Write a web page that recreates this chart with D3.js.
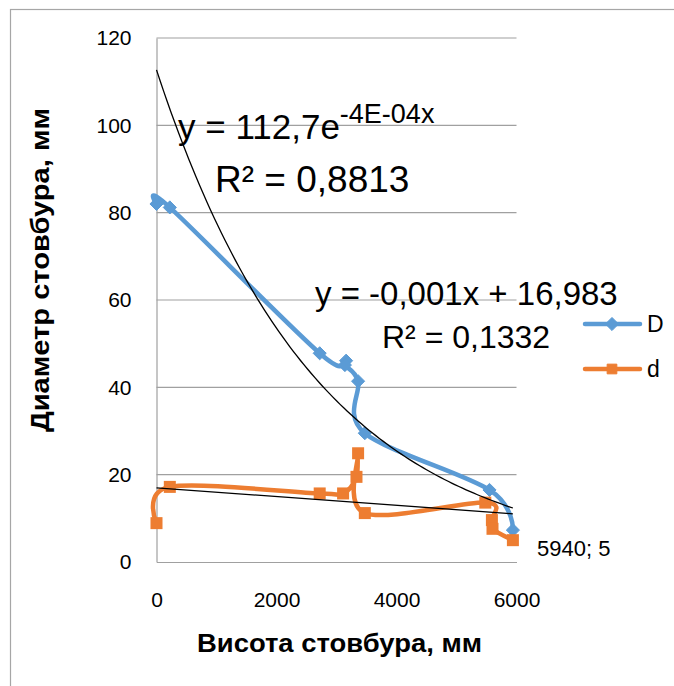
<!DOCTYPE html>
<html>
<head>
<meta charset="utf-8">
<script src="https://cdn.jsdelivr.net/npm/d3@7"></script>
<style>
  body { margin: 0; background: #fff; }
  svg { font-family: "Liberation Sans", Arial, sans-serif; }
</style>
</head>
<body>
<svg id="chart"></svg>
<script>
// Stem diameter along stem height

var heightD = [0, 222, 2720, 3160, 3140, 3360, 3472, 5550, 5940];
var diamD = [82, 81.2, 47.8, 46.1, 45.1, 41.4, 29.5, 16.5, 7.3];

var heightSmall = [0, 222, 2720, 3110, 3333, 3360, 3472, 5480, 5590, 5600, 5940];
var diamSmall = [8.9, 17.2, 15.7, 15.7, 19.5, 24.9, 11.2, 13.6, 9.6, 7.6, 5];

var xTicks = [0, 2000, 4000, 6000];
var yTicks = [0, 20, 40, 60, 80, 100, 120];

var seriesNames = ["D", "d"];
var seriesColors = ["#5B9BD5", "#ED7D31"];

// trendline coefficients as printed on the chart
var expA = 112.7, expK = -0.000372;
var linA = -0.001, linB = 16.983;

var svgWidth = 674, svgHeight = 686;

var svg = d3.select("#chart")
    .attr("width", svgWidth)
    .attr("height", svgHeight);

// chart border
svg.append("rect")
    .attr("x", 10.5).attr("y", 9.5)
    .attr("width", 700).attr("height", 700)
    .attr("fill", "none")
    .attr("stroke", "#a6a6a6")
    .attr("stroke-width", 1.2);

var xScale = d3.scaleLinear().domain([0, 6000]).range([156.5, 516.5]);
var yScale = d3.scaleLinear().domain([0, 120]).range([562, 38]);

// gridlines
svg.append("g")
    .selectAll("line")
    .data(yTicks.slice(1))
    .enter()
    .append("line")
    .attr("x1", xScale(0)).attr("x2", xScale(6000))
    .attr("y1", function(d) { return yScale(d); })
    .attr("y2", function(d) { return yScale(d); })
    .attr("stroke", "#a0a0a0")
    .attr("stroke-width", 1.2);

// axes
var xAxis = svg.append("g")
    .attr("transform", "translate(0," + yScale(0) + ")")
    .call(d3.axisBottom(xScale).tickValues(xTicks).tickFormat(d3.format("d")).tickSize(0).tickPadding(30));
var yAxis = svg.append("g")
    .attr("transform", "translate(" + xScale(0) + ",0)")
    .call(d3.axisLeft(yScale).tickValues(yTicks).tickSize(0).tickPadding(25));

[xAxis, yAxis].forEach(function(ax) {
    ax.select(".domain").attr("stroke", "#a0a0a0").attr("stroke-width", 1.2);
    ax.selectAll("text")
        .attr("font-family", "Liberation Sans, Arial, sans-serif")
        .attr("font-size", 21)
        .attr("fill", "#000");
});

// axis titles
svg.append("text")
    .attr("x", 197).attr("y", 652)
    .attr("font-size", 26)
    .attr("font-weight", "bold")
    .attr("textLength", 285)
    .attr("lengthAdjust", "spacingAndGlyphs")
    .text("Висота стовбура, мм");

svg.append("text")
    .attr("transform", "translate(49,432) rotate(-90)")
    .attr("font-size", 26)
    .attr("font-weight", "bold")
    .attr("textLength", 324)
    .attr("lengthAdjust", "spacingAndGlyphs")
    .text("Диаметр стовбура, мм");

// series lines (smoothed like the office chart)
var smooth = d3.line()
    .x(function(d) { return xScale(d[0]); })
    .y(function(d) { return yScale(d[1]); })
    .curve(d3.curveCardinal.tension(0));

var ptsD = heightD.map(function(h, i) { return [h, diamD[i]]; });
var ptsSmall = heightSmall.map(function(h, i) { return [h, diamSmall[i]]; });

svg.append("path")
    .datum(ptsD)
    .attr("d", smooth)
    .attr("fill", "none")
    .attr("stroke", seriesColors[0])
    .attr("stroke-width", 4.5)
    .attr("stroke-linejoin", "round");

svg.append("path")
    .datum(ptsSmall)
    .attr("d", smooth)
    .attr("fill", "none")
    .attr("stroke", seriesColors[1])
    .attr("stroke-width", 4.5)
    .attr("stroke-linejoin", "round");

// markers
svg.append("g")
    .selectAll("path")
    .data(ptsD)
    .enter()
    .append("path")
    .attr("d", d3.symbol().type(d3.symbolDiamond2).size(110))
    .attr("transform", function(d) { return "translate(" + xScale(d[0]) + "," + yScale(d[1]) + ")"; })
    .attr("fill", seriesColors[0])
    .attr("stroke", seriesColors[0]);

svg.append("g")
    .selectAll("rect")
    .data(ptsSmall)
    .enter()
    .append("rect")
    .attr("x", function(d) { return xScale(d[0]) - 6; })
    .attr("y", function(d) { return yScale(d[1]) - 6; })
    .attr("width", 12).attr("height", 12)
    .attr("fill", seriesColors[1]);

// trendlines
var expPts = d3.range(0, 5941, 60).map(function(h) { return [h, expA * Math.exp(expK * h)]; });
var trend = d3.line()
    .x(function(d) { return xScale(d[0]); })
    .y(function(d) { return yScale(d[1]); });

svg.append("path")
    .datum(expPts)
    .attr("d", trend)
    .attr("fill", "none")
    .attr("stroke", "#000")
    .attr("stroke-width", 1.3);

svg.append("path")
    .datum([[0, linB], [5940, linB + linA * 5940]])
    .attr("d", trend)
    .attr("fill", "none")
    .attr("stroke", "#000")
    .attr("stroke-width", 1.3);

// trendline labels
var eq1 = svg.append("text").attr("x", 178).attr("y", 139).attr("font-size", 35);
eq1.append("tspan").text("y = 112,7e");
eq1.append("tspan").attr("dy", -16).attr("font-size", 27).text("-4E-04x");

svg.append("text").attr("x", 215).attr("y", 192).attr("font-size", 37).text("R² = 0,8813");

svg.append("text").attr("x", 315).attr("y", 305).attr("font-size", 33).text("y = -0,001x + 16,983");
svg.append("text").attr("x", 382).attr("y", 348).attr("font-size", 32).text("R² = 0,1332");

// data label on last point of d
svg.append("text")
    .attr("x", 537).attr("y", 556)
    .attr("font-size", 22)
    .text(heightSmall[heightSmall.length - 1] + "; " + diamSmall[diamSmall.length - 1]);

// legend
var legend = svg.append("g")
    .selectAll("g")
    .data(seriesNames)
    .enter()
    .append("g")
    .attr("transform", function(d, i) { return "translate(585," + (324 + i * 45) + ")"; });

legend.append("line")
    .attr("x1", 0).attr("x2", 55)
    .attr("stroke", function(d, i) { return seriesColors[i]; })
    .attr("stroke-width", 4.5)
    .attr("stroke-linecap", "round");

legend.append("path")
    .attr("d", function(d, i) {
        return d3.symbol().type(i === 0 ? d3.symbolDiamond2 : d3.symbolSquare2).size(i === 0 ? 110 : 120)();
    })
    .attr("transform", "translate(27,0)")
    .attr("fill", function(d, i) { return seriesColors[i]; })
    .attr("stroke", function(d, i) { return seriesColors[i]; });

legend.append("text")
    .attr("x", 62).attr("y", 8)
    .attr("font-size", 23)
    .text(function(d) { return d; });
</script>
</body>
</html>
